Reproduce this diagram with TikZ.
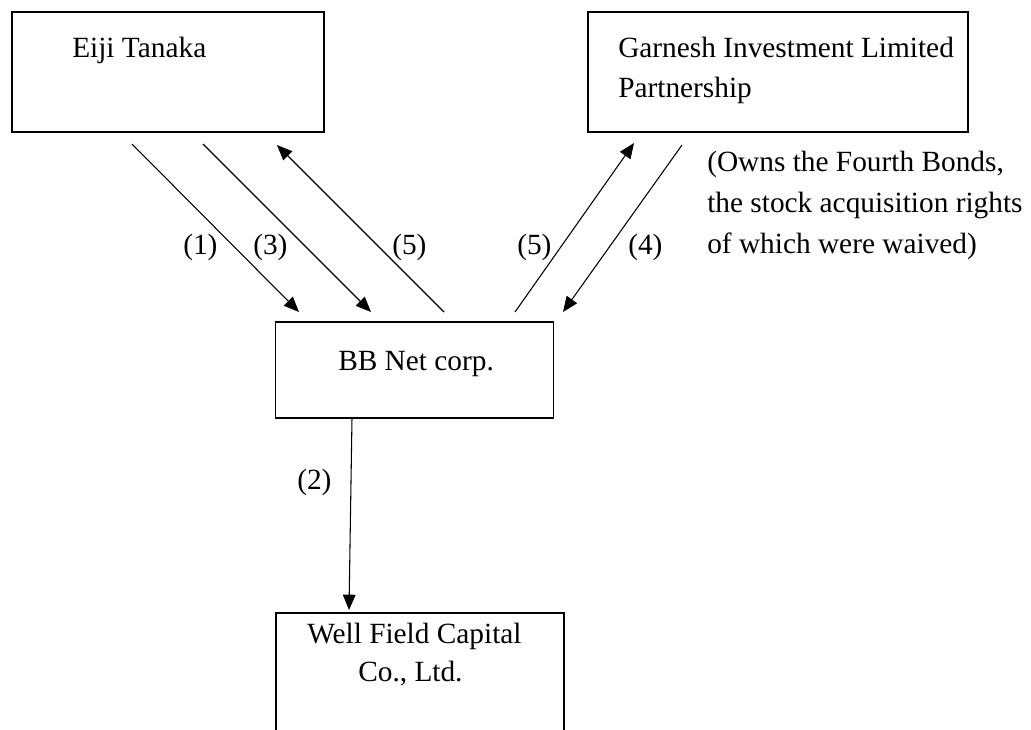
\documentclass[tikz,border=0pt]{standalone}
\usepackage{fontspec}
\setmainfont{Liberation Serif}
\usetikzlibrary{arrows.meta}
\begin{document}
\begin{tikzpicture}[x=0.75pt,y=-0.75pt,
  boxnode/.style={draw,line width=0.9pt,rectangle,inner sep=0pt},
  txt/.style={anchor=base west,inner sep=0pt,font=\fontsize{22pt}{30.75pt}\selectfont},
  conn/.style={line width=0.8pt,-{Triangle[length=11.5pt,width=9.5pt]}}]
\clip (0,0) rectangle (1031,729);
\useasboundingbox (0,0) rectangle (1031,729);
% boxes
\node[boxnode,minimum width=234pt,minimum height=90pt] (eiji) at (168,72) {};
\node[boxnode,minimum width=285pt,minimum height=90pt] (garn) at (778,72) {};
\node[boxnode,minimum width=208.5pt,minimum height=72pt] (bb) at (414.5,370) {};
\node[boxnode,minimum width=216pt,minimum height=120pt] (wf) at (420,693) {};
% texts
\node[txt] (t1) at (72,57) {Eiji Tanaka};
\node[txt] (t2a) at (618,57) {Garnesh Investment Limited};
\node[txt] (t2b) at (618,97) {Partnership};
\node[txt] (t3) at (338,370) {BB Net corp.};
\node[txt] (t4a) at (307,643) {Well Field Capital};
\node[txt] (t4b) at (358,681) {Co., Ltd.};
\node[txt] (n1) at (707,171) {(Owns the Fourth Bonds,};
\node[txt] (n2) at (707,212) {the stock acquisition rights};
\node[txt] (n3) at (707,253) {of which were waived)};
% labels
\node[txt] (l1) at (183,254) {(1)};
\node[txt] (l3) at (253,254) {(3)};
\node[txt] (l5a) at (392,254) {(5)};
\node[txt] (l5b) at (517,254) {(5)};
\node[txt] (l4) at (628,254) {(4)};
\node[txt] (l2) at (297,489) {(2)};
% connector end points
\coordinate (a1s) at (132,144); \coordinate (a1e) at (299,312);
\coordinate (a3s) at (203,144); \coordinate (a3e) at (371,312);
\coordinate (a5s) at (444,312); \coordinate (a5e) at (277,145);
\coordinate (b5s) at (515,312); \coordinate (b5e) at (634,143);
\coordinate (a4s) at (682,145); \coordinate (a4e) at (563,312);
\coordinate (a2s) at (352,418); \coordinate (a2e) at (349,610);
\draw[conn] (a1s) -- (a1e);
\draw[conn] (a3s) -- (a3e);
\draw[conn] (a5s) -- (a5e);
\draw[conn] (b5s) -- (b5e);
\draw[conn] (a4s) -- (a4e);
\draw[conn] (a2s) -- (a2e);
\end{tikzpicture}
\end{document}
